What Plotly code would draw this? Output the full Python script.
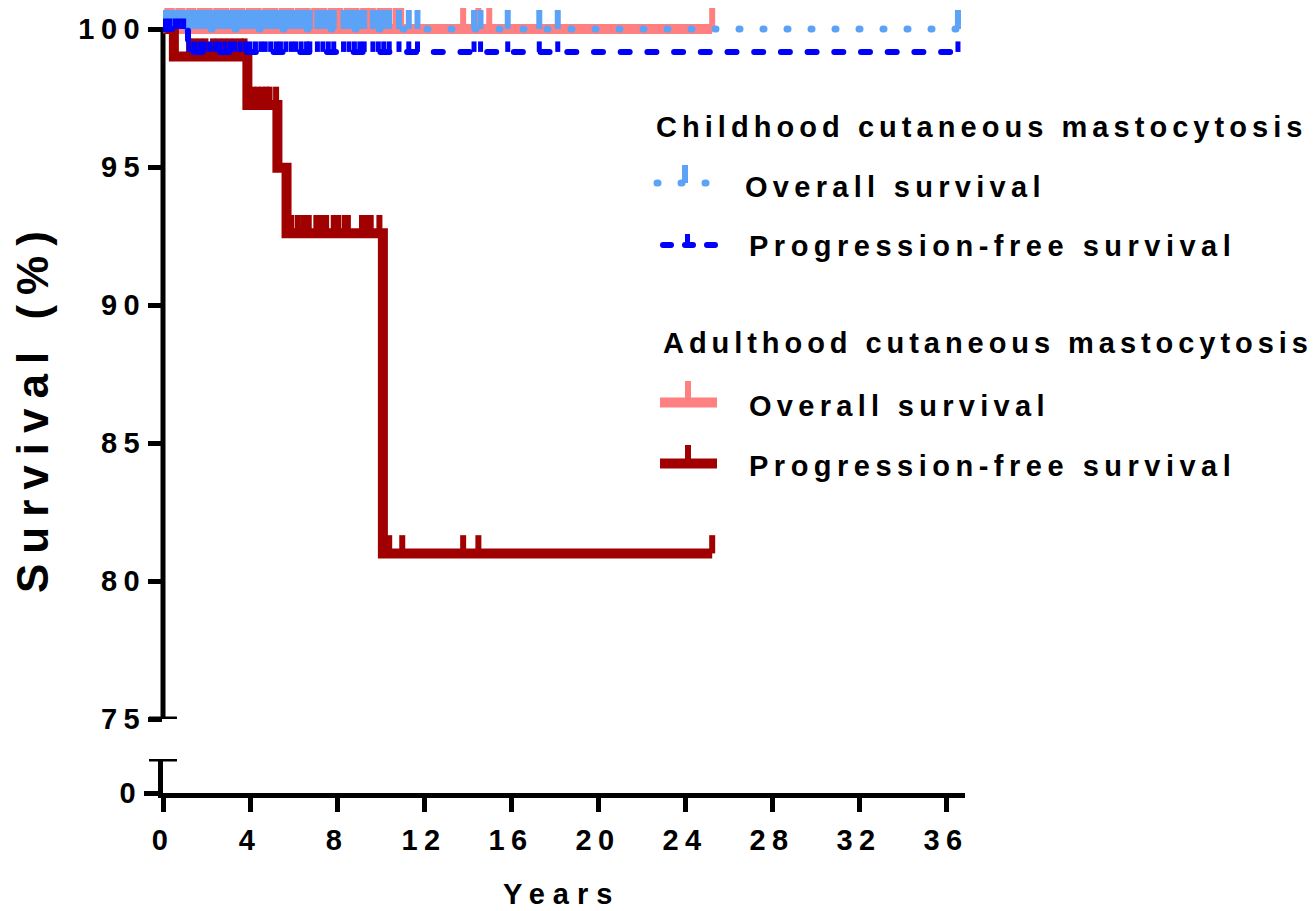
import json
import plotly.graph_objects as go

# ---------------- data (years, survival %) ----------------
# Childhood cutaneous mastocytosis
child_os_end = 36.55
child_pfs_event_years = [1.15]
child_pfs_event_surv = [99.17]
child_pfs_end = 36.55
child_censor_years = [0.1, 0.3, 0.55, 0.75, 0.95, 1.2, 1.45, 1.7, 1.9, 2.15, 2.4, 2.6,
                      2.85, 3.1, 3.3, 3.55, 3.8, 4.0, 4.25, 4.5, 4.7, 4.95, 5.2, 5.4,
                      5.65, 5.9, 6.1, 6.35, 6.6, 6.75, 7.1, 7.35, 7.6, 7.85, 8.3, 8.55,
                      8.8, 9.05, 9.25, 9.65, 9.9, 10.15, 10.4, 10.85, 11.3, 11.7,
                      14.3, 14.6, 15.85, 17.3, 18.15, 36.55]

# Adulthood cutaneous mastocytosis
adult_os_end = 25.25
adult_os_censor_years = [0.2, 0.4, 0.7, 0.9, 1.2, 1.4, 1.7, 1.95, 2.15, 2.45, 2.7, 2.9,
                         3.2, 3.45, 3.65, 3.95, 4.2, 4.4, 4.7, 4.95, 5.15, 5.45, 5.7,
                         5.9, 6.2, 6.45, 6.65, 6.95, 7.2, 7.4, 7.7, 7.95, 8.15, 8.45,
                         8.7, 8.9, 9.2, 9.45, 9.65, 9.95, 10.2, 10.4, 10.7, 10.95,
                         13.8, 14.5, 15.0, 25.25]
adult_pfs_event_years = [0.5, 3.88, 5.26, 5.68, 10.11]
adult_pfs_event_surv = [99.0, 97.25, 94.97, 92.6, 81.0]
adult_pfs_end = 25.25
adult_pfs_censor_years = [1.2, 1.45, 1.7, 1.95, 2.3, 2.55, 2.8, 3.05, 3.3, 3.55, 3.75,
                          4.15, 4.35, 4.55, 4.75, 4.9, 5.2, 5.9, 6.2, 6.45, 6.7, 7.05,
                          7.3, 7.5, 7.85, 8.05, 8.35, 8.5, 9.15, 9.35, 9.55, 9.95,
                          10.4, 11.0, 13.8, 14.5, 25.25]

x_tick_values = [0, 4, 8, 12, 16, 20, 24, 28, 32, 36]
y_tick_values = [75, 80, 85, 90, 95, 100]

group_titles = ["Childhood cutaneous mastocytosis", "Adulthood cutaneous mastocytosis"]
series_names = ["Overall survival", "Progression-free survival"]

# ---------------- styling ----------------
W, H = 1315, 911
L, R, T, B = 163, 350, 6, 118
PX_PER_YEAR = 21.75
PX_PER_PCT = 27.6
PLOT_W = W - L - R
PLOT_H = H - T - B
Y_BREAK_PX = 74          # lower segment plus the gap of the broken axis, px from bottom
Y_LOW_PX = 34            # height of the lower segment
Y_TOP = 75 + (PLOT_H - Y_BREAK_PX) / PX_PER_PCT

C_CHILD_OS = "#5CA3F7"
C_CHILD_PFS = "#0000FF"
C_ADULT_OS = "#FF8080"
C_ADULT_PFS = "#A00000"

FONT = "Liberation Sans, Arial, sans-serif"


def px_x(p):
    return (p - L) / PLOT_W


def px_y(p):
    return (T + PLOT_H - p) / PLOT_H


def km_path(events, surv, end):
    xs = [0.0] + list(events) + [end]
    ys = [100.0] + list(surv) + [surv[-1] if surv else 100.0]
    return xs, ys


def surv_at(t, events, surv):
    s = 100.0
    for e, v in zip(events, surv):
        if e <= t:
            s = v
    return s


def censor_ticks(censor, events, surv, h):
    xs, ys = [], []
    for c in censor:
        s = surv_at(c, events, surv)
        xs += [c, c, None]
        ys += [s, s + h, None]
    return xs, ys


fig = go.Figure()


def add_curve(events, surv, end, censor, color, width, dash, tick_h, tick_w):
    xs, ys = km_path(events, surv, end)
    fig.add_trace(go.Scatter(x=xs, y=ys, mode="lines", line_shape="hv",
                             line=dict(color=color, width=width, dash=dash),
                             showlegend=False, hoverinfo="skip"))
    tx, ty = censor_ticks(censor, events, surv, tick_h)
    fig.add_trace(go.Scatter(x=tx, y=ty, mode="lines",
                             line=dict(color=color, width=tick_w),
                             showlegend=False, hoverinfo="skip"))


add_curve([], [], adult_os_end, adult_os_censor_years, C_ADULT_OS, 10, "solid", 0.76, 6)
add_curve(adult_pfs_event_years, adult_pfs_event_surv, adult_pfs_end,
          adult_pfs_censor_years, C_ADULT_PFS, 10, "solid", 0.66, 6)
add_curve([], [], child_os_end, child_censor_years, C_CHILD_OS, 7, "1px,23px", 0.69, 6)
add_curve(child_pfs_event_years, child_pfs_event_surv, child_pfs_end,
          child_censor_years, C_CHILD_PFS, 6, "9px,17.7px", 0.38, 5)

tick_font = dict(family=FONT, size=29, color="black", weight="bold")

fig.update_layout(
    width=W, height=H,
    margin=dict(l=L, r=R, t=T, b=B),
    plot_bgcolor="white", paper_bgcolor="white",
    showlegend=False,
    xaxis=dict(range=[0, PLOT_W / PX_PER_YEAR], anchor="y2", tickvals=x_tick_values,
               ticks="outside", ticklen=14, tickwidth=5, tickcolor="black",
               showline=True, linewidth=5, linecolor="black", ticklabelstandoff=3,
               showgrid=False, zeroline=False, tickfont=tick_font),
    yaxis=dict(domain=[Y_BREAK_PX / PLOT_H, 1], range=[75, Y_TOP], anchor="x",
               tickvals=y_tick_values, ticks="outside", ticklen=14, tickwidth=5,
               tickcolor="black", showline=False, showgrid=False, zeroline=False,
               ticklabelstandoff=-4, tickfont=tick_font),
    yaxis2=dict(domain=[0, Y_LOW_PX / PLOT_H], range=[0, 1], anchor="x",
                tickvals=[0], ticks="outside", ticklen=14, tickwidth=5,
                tickcolor="black", showline=True, linewidth=5, linecolor="black",
                ticklabelstandoff=-4,
                showgrid=False, zeroline=False, tickfont=tick_font),
)

# broken y axis: upper segment line and the end caps at the break
shapes = [
    dict(type="line", xref="paper", yref="y", x0=0, x1=0, y0=75, y1=100.07,
         line=dict(color="black", width=5), layer="below"),
    dict(type="line", xref="paper", yref="y", x0=px_x(149), x1=px_x(177), y0=75, y1=75,
         line=dict(color="black", width=5)),
    dict(type="line", xref="paper", yref="y2", x0=px_x(149), x1=px_x(177), y0=1, y1=1,
         line=dict(color="black", width=5)),
]

# legend glyphs (line sample + censor tick)
legend_rows = [
    # (y px, color, width, dash, x0, x1, tick x, tick top)
    (183, C_CHILD_OS, 7, "1px,23px", 657, 711, 685, 165),
    (245, C_CHILD_PFS, 6, "8px,14px", 663, 716, 687.5, 234),
    (402.5, C_ADULT_OS, 10, "solid", 660, 717, 688, 381),
    (463.5, C_ADULT_PFS, 10, "solid", 660, 717, 688, 445),
]
for yy, col, wd, ds, x0, x1, tx, ttop in legend_rows:
    shapes.append(dict(type="line", xref="paper", yref="paper",
                       x0=px_x(x0), x1=px_x(x1), y0=px_y(yy), y1=px_y(yy),
                       line=dict(color=col, width=wd, dash=ds)))
    shapes.append(dict(type="line", xref="paper", yref="paper",
                       x0=px_x(tx), x1=px_x(tx), y0=px_y(yy), y1=px_y(ttop),
                       line=dict(color=col, width=6 if wd > 6 else 5)))
fig.update_layout(shapes=shapes)

legend_font = dict(family=FONT, size=29, color="black", weight="bold")
annotations = []
spacing = []


def add_text(text, x, y, font, xanchor="left", angle=0, ls=0):
    annotations.append(dict(text=text, xref="paper", yref="paper", x=px_x(x), y=px_y(y),
                            xanchor=xanchor, yanchor="middle", showarrow=False,
                            borderpad=0, textangle=angle, font=font,
                            align="left" if xanchor == "left" else "center"))
    spacing.append(ls)


add_text(group_titles[0], 655, 127, legend_font, ls=5.05)
add_text(series_names[0], 744, 187, legend_font, ls=5.3)
add_text(series_names[1], 748, 246, legend_font, ls=5.5)
add_text(group_titles[1], 662, 343, legend_font, ls=4.95)
add_text(series_names[0], 748, 406, legend_font, ls=5.3)
add_text(series_names[1], 748, 466, legend_font, ls=5.5)
add_text("Years", 561, 894, dict(family=FONT, size=29, color="black", weight="bold"),
         xanchor="center", ls=8)
add_text("Survival (%)", 33, 407, dict(family=FONT, size=44, color="black", weight="bold"),
         xanchor="center", angle=-90, ls=10)
fig.update_layout(annotations=annotations)

post = (
    "(function(){var gd=document.getElementById('{plot_id}');"
    "var sp=" + json.dumps(spacing) + ";"
    "function ls(sel,v){gd.querySelectorAll(sel).forEach(function(e){e.style.letterSpacing=v+'px';});}"
    "ls('.xtick text',6.5);ls('.ytick text',6.5);ls('.y2tick text',6.5);"
    "gd.querySelectorAll('g.annotation').forEach(function(g){var i=+g.getAttribute('data-index');"
    "var t=g.querySelector('text');if(t&&sp[i]){t.style.letterSpacing=sp[i]+'px';}});"
    "gd.querySelectorAll('path').forEach(function(p){var d=p.style.strokeDasharray;"
    "if(d&&d!=='none'){p.style.strokeLinecap='round';}});})();"
)

fig.write_html("out.html", post_script=post)
